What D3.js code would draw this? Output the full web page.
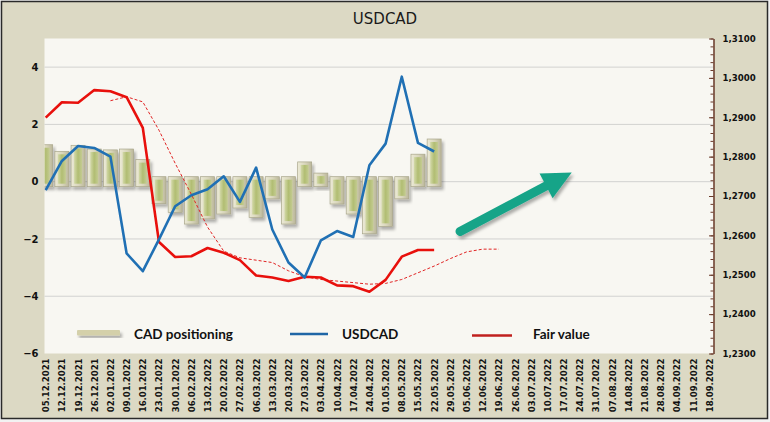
<!DOCTYPE html>
<html>
<head>
<meta charset="utf-8">
<script src="https://cdn.jsdelivr.net/npm/d3@7"></script>
<style>
  body { margin: 0; background: #fff; }
  svg { display: block; }
</style>
</head>
<body>
<svg id="chart"></svg>
<script>
const dates = [
  '05.12.2021', '12.12.2021', '19.12.2021', '26.12.2021',
  '02.01.2022', '09.01.2022', '16.01.2022', '23.01.2022', '30.01.2022',
  '06.02.2022', '13.02.2022', '20.02.2022', '27.02.2022',
  '06.03.2022', '13.03.2022', '20.03.2022', '27.03.2022',
  '03.04.2022', '10.04.2022', '17.04.2022', '24.04.2022',
  '01.05.2022', '08.05.2022', '15.05.2022', '22.05.2022', '29.05.2022',
  '05.06.2022', '12.06.2022', '19.06.2022', '26.06.2022',
  '03.07.2022', '10.07.2022', '17.07.2022', '24.07.2022', '31.07.2022',
  '07.08.2022', '14.08.2022', '21.08.2022', '28.08.2022',
  '04.09.2022', '11.09.2022', '18.09.2022'
];

// CAD positioning, left axis
const positioning = [1.29, 1.06, 1.27, 1.14, 1.11, 1.14, 0.77, -0.77, -1.07, -1.48, -1.30, -1.13, -0.92,
  -1.25, -0.60, -1.48, 0.69, 0.30, -0.78, -1.13, -1.82, -1.56, -0.60, 0.96, 1.49];

// right axis
const usdcad = [1.2715, 1.2789, 1.2827, 1.2822, 1.2800, 1.2554, 1.2509, 1.2590, 1.2674, 1.2702, 1.2717, 1.2750, 1.2685,
  1.2772, 1.2615, 1.2531, 1.2493, 1.2587, 1.2611, 1.2596, 1.2778, 1.2833, 1.3003, 1.2835, 1.2813];
const fairValue = [1.2899, 1.2938, 1.2937, 1.2969, 1.2966, 1.2951, 1.2873, 1.2583, 1.2545, 1.2547, 1.2568, 1.2556, 1.2537,
  1.2498, 1.2493, 1.2484, 1.2495, 1.2493, 1.2473, 1.2471, 1.2457, 1.2487, 1.2546, 1.2563, 1.2563];
// dashed fair value, begins at 02.01.2022
const fairValueAheadStart = 4;
const fairValueAhead = [1.2942, 1.2952, 1.2939, 1.2867, 1.2783, 1.2704, 1.2621, 1.2560, 1.2543, 1.2537, 1.2531, 1.2510,
  1.2495, 1.2488, 1.2484, 1.2480, 1.2476, 1.2478, 1.2488, 1.2505, 1.2522, 1.2541, 1.2558, 1.2565, 1.2565];

const leftTicks = [-6, -4, -2, 0, 2, 4];
const gridTicks = [-4, -2, 0, 2, 4];
const rightTicks = [1.23, 1.24, 1.25, 1.26, 1.27, 1.28, 1.29, 1.30, 1.31];

// arrow annotation, [week index, USDCAD]
const arrowFrom = [25.6, 1.2610];
const arrowTo = [32.5, 1.2760];

const width = 770;
const height = 422;
const plotLeft = 44.5, plotRight = 713.5, plotTop = 38.5, plotBottom = 353.5;

const svg = d3.select('#chart').attr('width', width).attr('height', height);
const defs = svg.append('defs');

defs.append('clipPath').attr('id', 'plot-clip').append('rect')
  .attr('x', plotLeft).attr('y', plotTop).attr('width', plotRight - plotLeft).attr('height', plotBottom - plotTop);

const frameGrad = defs.append('linearGradient').attr('id', 'frame-grad');
frameGrad.append('stop').attr('offset', '0%').attr('stop-color', '#ecead6');
frameGrad.append('stop').attr('offset', '55%').attr('stop-color', '#d8d5bb');
frameGrad.append('stop').attr('offset', '100%').attr('stop-color', '#bbb79a');

const greenGrad = defs.append('linearGradient').attr('id', 'green-grad');
greenGrad.append('stop').attr('offset', '0%').attr('stop-color', '#d3d9a9');
greenGrad.append('stop').attr('offset', '50%').attr('stop-color', '#b1bd72');
greenGrad.append('stop').attr('offset', '100%').attr('stop-color', '#c4cc92');

defs.append('filter').attr('id', 'shadow').attr('x', '-20%').attr('y', '-20%').attr('width', '150%').attr('height', '150%')
  .append('feDropShadow').attr('dx', 2).attr('dy', 3).attr('stdDeviation', 1.5)
  .attr('flood-color', '#000').attr('flood-opacity', 0.3);

// background and frame
svg.append('rect').attr('width', width).attr('height', height).attr('fill', '#f2f2f2');
svg.append('rect').attr('x', 1.5).attr('y', 1.5).attr('width', width - 4).attr('height', height - 5)
  .attr('fill', '#dcd9c4').attr('stroke', '#2a2a2a').attr('stroke-width', 1.5);

svg.append('rect').attr('x', plotLeft).attr('y', plotTop)
  .attr('width', plotRight - plotLeft).attr('height', plotBottom - plotTop).attr('fill', '#f8f7f2');

svg.append('text').attr('x', 385).attr('y', 24).attr('text-anchor', 'middle')
  .attr('font-family', 'DejaVu Sans').attr('font-size', 15).attr('fill', '#1a1a1a').text('USDCAD');

const xScale = d3.scaleLinear().domain([0, dates.length - 1]).range([45.7, 709.3]);
const yLeft = d3.scaleLinear().domain([-6, 5]).range([plotBottom, plotTop]);
const yRight = d3.scaleLinear().domain([1.23, 1.31]).range([plotBottom, plotTop]);

// gridlines
svg.append('g').selectAll('line').data(gridTicks).enter().append('line')
  .attr('x1', plotLeft).attr('x2', plotRight)
  .attr('y1', (d) => yLeft(d)).attr('y2', (d) => yLeft(d))
  .attr('stroke', '#d2d2d0').attr('stroke-width', 1);

const plot = svg.append('g').attr('clip-path', 'url(#plot-clip)');

// bars with bevel
const barWidth = 14;
const inset = 3;
const y0 = yLeft(0);
const bars = plot.append('g').selectAll('g').data(positioning).enter().append('g')
  .attr('filter', 'url(#shadow)');
const barTop = (d) => d >= 0 ? yLeft(d) : y0 - 5;
const barBottom = (d) => d >= 0 ? y0 + 5 : yLeft(d);
bars.append('rect')
  .attr('x', (d, i) => xScale(i) - barWidth / 2).attr('width', barWidth)
  .attr('y', barTop).attr('height', (d) => barBottom(d) - barTop(d))
  .attr('fill', 'url(#frame-grad)').attr('stroke', '#a8a58a').attr('stroke-width', 0.7);
bars.append('rect')
  .attr('x', (d, i) => xScale(i) - barWidth / 2 + inset).attr('width', barWidth - 2 * inset)
  .attr('y', (d) => barTop(d) + inset).attr('height', (d) => Math.max(0, barBottom(d) - barTop(d) - 2 * inset))
  .attr('fill', 'url(#green-grad)');

// lines
const aheadLine = d3.line().x((d, i) => xScale(i + fairValueAheadStart)).y((d) => yRight(d));
plot.append('path').attr('d', aheadLine(fairValueAhead))
  .attr('fill', 'none').attr('stroke', '#e02424').attr('stroke-width', 1).attr('stroke-dasharray', '3,2');

const line = d3.line().x((d, i) => xScale(i)).y((d) => yRight(d));
plot.append('path').attr('d', line(fairValue))
  .attr('fill', 'none').attr('stroke', '#e8100c').attr('stroke-width', 2.6).attr('stroke-linejoin', 'round');
plot.append('path').attr('d', line(usdcad))
  .attr('fill', 'none').attr('stroke', '#2070b4').attr('stroke-width', 2.6).attr('stroke-linejoin', 'round');

// arrow
const p0 = [xScale(arrowFrom[0]), yRight(arrowFrom[1])];
const p1 = [xScale(arrowTo[0]), yRight(arrowTo[1])];
const len = Math.hypot(p1[0] - p0[0], p1[1] - p0[1]);
const ux = (p1[0] - p0[0]) / len, uy = (p1[1] - p0[1]) / len;
const headLen = 29, headHalf = 14;
const base = [p1[0] - ux * headLen, p1[1] - uy * headLen];
const arrow = svg.append('g').attr('filter', 'url(#shadow)');
arrow.append('line')
  .attr('x1', p0[0]).attr('y1', p0[1]).attr('x2', base[0] + ux * 3).attr('y2', base[1] + uy * 3)
  .attr('stroke', '#17a488').attr('stroke-width', 9).attr('stroke-linecap', 'round');
arrow.append('path')
  .attr('d', `M${p1[0]},${p1[1]}L${base[0] - uy * headHalf},${base[1] + ux * headHalf}L${base[0] + uy * headHalf},${base[1] - ux * headHalf}Z`)
  .attr('fill', '#17a488');

// axes
const leftAxis = svg.append('g').attr('transform', `translate(${plotLeft},0)`)
  .call(d3.axisLeft(yLeft).tickValues(leftTicks).tickSize(0).tickPadding(6));
leftAxis.select('.domain').remove();
leftAxis.selectAll('text').attr('font-family', 'DejaVu Sans').attr('font-weight', 'bold')
  .attr('font-size', 10).attr('fill', '#111');

const minorTicks = d3.range(0, 41).map((i) => 1.23 + i * 0.002);
const rightMinor = svg.append('g').attr('transform', `translate(${plotRight},0)`)
  .call(d3.axisRight(yRight).tickValues(minorTicks).tickSizeInner(-3).tickSizeOuter(0).tickFormat(''));
rightMinor.selectAll('line').attr('stroke', '#6b3b2b');
rightMinor.select('.domain').attr('stroke', '#6b3b2b');

const rightAxis = svg.append('g').attr('transform', `translate(${plotRight},0)`)
  .call(d3.axisRight(yRight).tickValues(rightTicks).tickSizeInner(-4.5).tickSizeOuter(0).tickPadding(9)
    .tickFormat((d) => d3.format('.4f')(d).replace('.', ',')));
rightAxis.select('.domain').attr('stroke', '#6b3b2b');
rightAxis.selectAll('line').attr('stroke', '#6b3b2b');
rightAxis.selectAll('text').attr('font-family', 'DejaVu Sans').attr('font-weight', 'bold')
  .attr('font-size', 8.6).attr('fill', '#111');

const bottomAxis = svg.append('g').attr('transform', `translate(0,${plotBottom})`)
  .call(d3.axisBottom(xScale).tickValues(d3.range(dates.length)).tickSize(0).tickFormat((i) => dates[i]));
bottomAxis.select('.domain').remove();
bottomAxis.selectAll('text')
  .attr('transform', 'rotate(-90)').attr('text-anchor', 'end')
  .attr('x', -5).attr('y', 0).attr('dy', '0.35em')
  .attr('font-family', 'DejaVu Sans').attr('font-weight', 'bold').attr('font-size', 8.5).attr('fill', '#111');

// legend
const legend = svg.append('g');
legend.append('rect').attr('x', 77).attr('y', 330).attr('width', 43).attr('height', 5.5).attr('rx', 1)
  .attr('fill', '#d4d0aa').attr('filter', 'url(#shadow)');
legend.append('text').attr('x', 134).attr('y', 338.5).text('CAD positioning');
legend.append('line').attr('x1', 290).attr('x2', 328).attr('y1', 334).attr('y2', 334)
  .attr('stroke', '#1f66a6').attr('stroke-width', 2.4);
legend.append('text').attr('x', 342).attr('y', 339).text('USDCAD');
legend.append('line').attr('x1', 472).attr('x2', 512).attr('y1', 335.5).attr('y2', 335.5)
  .attr('stroke', '#c0201e').attr('stroke-width', 2.4);
legend.append('text').attr('x', 533).attr('y', 339).text('Fair value');
legend.selectAll('text').attr('font-family', 'Lato').attr('font-weight', 'bold').attr('font-size', 13.5).attr('fill', '#111');
</script>
</body>
</html>
